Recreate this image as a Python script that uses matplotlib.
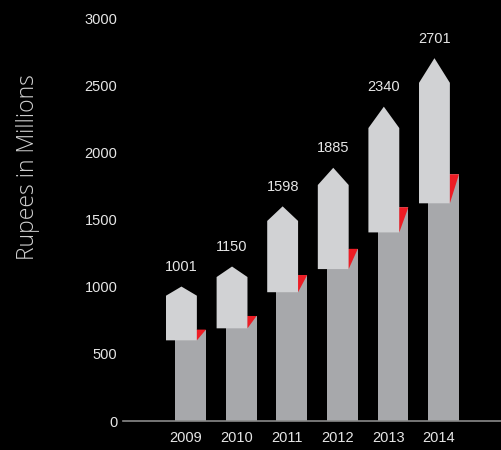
import matplotlib.pyplot as plt
import numpy as np

# revenue by year
anos = ['2009', '2010', '2011', '2012', '2013', '2014']
valores = [1001, 1150, 1598, 1885, 2340, 2701]

cinza_claro = '#d1d2d4'
cinza = '#a7a8ab'
vermelho = '#ed1c24'

fig = plt.figure(figsize=(5.02, 4.5), dpi=100, facecolor='black')
ax = fig.add_axes([0.245, 0.0644, 0.755, 0.8956], facecolor='black')

x = np.arange(len(anos))
v = np.array(valores, dtype=float)

w = 0.61
desloc = 0.09
base_seta = 0.6 * v      # arrow starts at 60% of the value
topo_barra = 0.68 * v    # grey block behind the arrow
ponta = 0.068 * v        # height of the arrow head

# grey block
ax.bar(x + desloc, topo_barra, width=w, color=cinza, zorder=1)

for xi, vi, b, t, p in zip(x, v, base_seta, topo_barra, ponta):
    esq = xi - desloc - w / 2
    dir_ = xi - desloc + w / 2
    # arrow
    ax.fill([esq, dir_, dir_, xi - desloc, esq],
            [b, b, vi - p, vi, vi - p],
            color=cinza_claro, lw=0, zorder=2)
    # red fold
    ax.fill([dir_, dir_ + 2 * desloc, dir_],
            [t, t, b],
            color=vermelho, lw=0, zorder=3)
    ax.annotate(f'{int(vi)}', (xi - desloc, vi), xytext=(0, 9),
                textcoords='offset points', ha='center', va='bottom',
                color='#e6e6e6', fontsize=10.5, family='Liberation Sans')

ax.set_xlim(-1.245, 6.245)
ax.set_ylim(0, 3000)
ax.set_yticks(range(0, 3001, 500))
ax.set_xticks(x)
ax.set_xticklabels(anos)

for s in ['top', 'right', 'left']:
    ax.spines[s].set_visible(False)
ax.spines['bottom'].set_color('#8a8a8a')
ax.spines['bottom'].set_linewidth(1.2)

ax.tick_params(axis='both', length=0, colors='#e6e6e6', labelsize=10.5)
ax.tick_params(axis='x', pad=7)
ax.tick_params(axis='y', pad=4)
for lb in ax.get_xticklabels() + ax.get_yticklabels():
    lb.set_family('Liberation Sans')

fig.text(0.056, 0.628, 'Rupees in Millions', rotation=90, ha='center', va='center',
         color='#d0d0d0', fontsize=16.5, family='Open Sans', fontweight='light')

fig.savefig('out.png', facecolor='black')
